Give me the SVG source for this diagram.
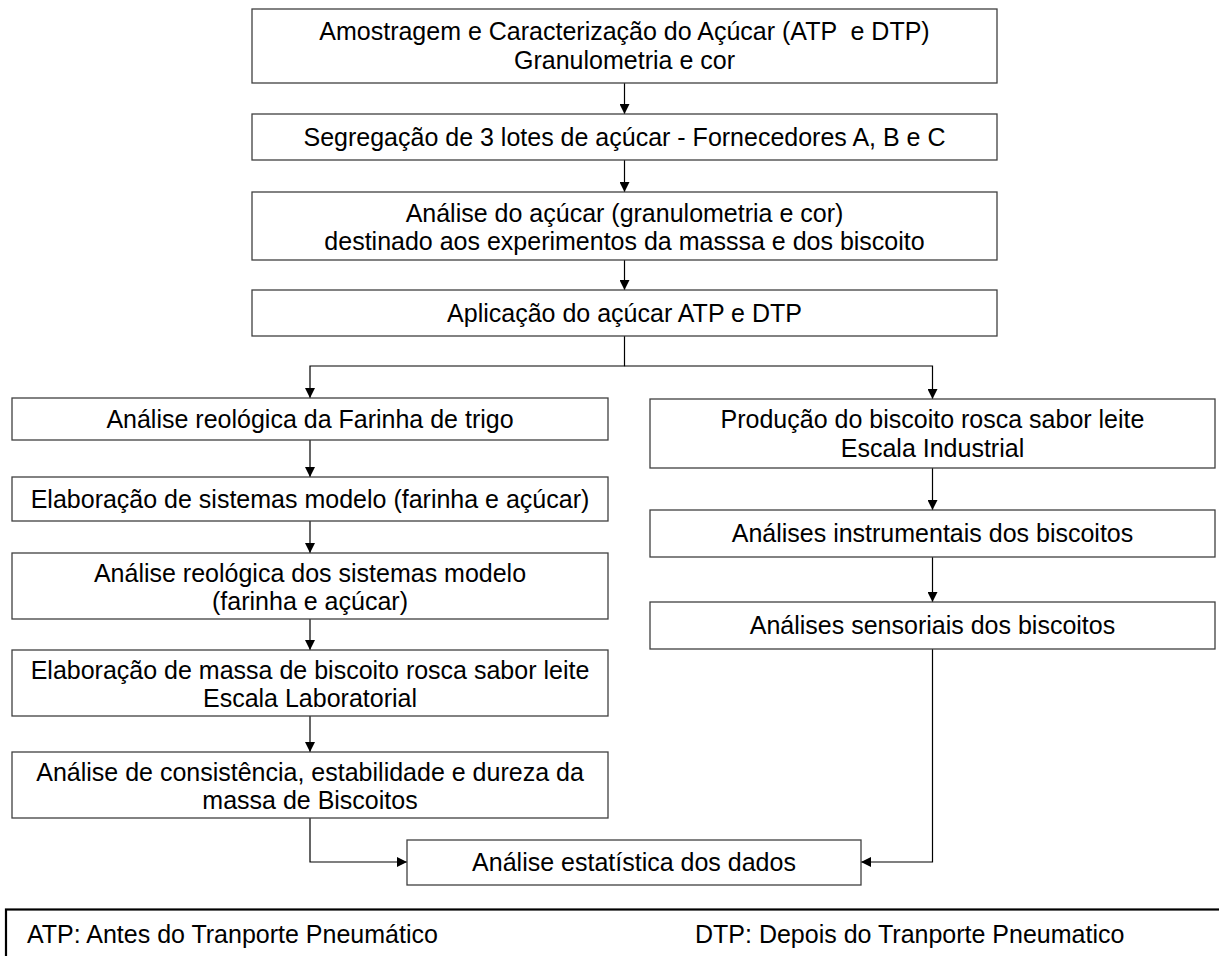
<svg xmlns="http://www.w3.org/2000/svg" width="1219" height="956" viewBox="0 0 1219 956">
  <style>
    .box { fill: #ffffff; stroke: #404040; stroke-width: 1.3; }
    .t { font-family: "Liberation Sans", Arial, sans-serif; font-size: 25px; fill: #000000; text-anchor: middle; white-space: pre; }
    .lg { font-family: "Liberation Sans", Arial, sans-serif; font-size: 25px; fill: #000000; }
    .c { fill: none; stroke: #000000; stroke-width: 1.2; }
  </style>
  <defs>
    <marker id="arrow" viewBox="0 0 10 10" refX="10" refY="5" markerWidth="10" markerHeight="10" markerUnits="userSpaceOnUse" orient="auto">
      <path d="M0,0 L10,5 L0,10 Z" fill="#000000"/>
    </marker>
  </defs>

  <rect width="1219" height="956" fill="#ffffff"/>

  <!-- connectors -->
  <g id="connectors">
    <path class="c" d="M624.5,83 V114" marker-end="url(#arrow)"/>
    <path class="c" d="M624.5,160 V192" marker-end="url(#arrow)"/>
    <path class="c" d="M624.5,260 V290" marker-end="url(#arrow)"/>
    <path class="c" d="M624.5,336 V366 H310 V398" marker-end="url(#arrow)"/>
    <path class="c" d="M624.5,366 H932.5 V399" marker-end="url(#arrow)"/>
    <path class="c" d="M310,440 V477" marker-end="url(#arrow)"/>
    <path class="c" d="M310,521 V553" marker-end="url(#arrow)"/>
    <path class="c" d="M310,619 V650" marker-end="url(#arrow)"/>
    <path class="c" d="M310,716 V752" marker-end="url(#arrow)"/>
    <path class="c" d="M310,818 V862 H407" marker-end="url(#arrow)"/>
    <path class="c" d="M932.5,468 V510" marker-end="url(#arrow)"/>
    <path class="c" d="M932.5,557 V602" marker-end="url(#arrow)"/>
    <path class="c" d="M932.5,649 V862 H861" marker-end="url(#arrow)"/>
  </g>

  <!-- main sequence -->
  <g id="n1">
    <rect class="box" x="252" y="9" width="745" height="74"/>
    <text class="t" x="624.5" y="40">Amostragem e Caracterização do Açúcar (ATP  e DTP)</text>
    <text class="t" x="624.5" y="69">Granulometria e cor</text>
  </g>
  <g id="n2">
    <rect class="box" x="252" y="114" width="745" height="46"/>
    <text class="t" x="624.5" y="146">Segregação de 3 lotes de açúcar - Fornecedores A, B e C</text>
  </g>
  <g id="n3">
    <rect class="box" x="252" y="192" width="745" height="68"/>
    <text class="t" x="624.5" y="222">Análise do açúcar (granulometria e cor)</text>
    <text class="t" x="624.5" y="250">destinado aos experimentos da masssa e dos biscoito</text>
  </g>
  <g id="n4">
    <rect class="box" x="252" y="290" width="745" height="46"/>
    <text class="t" x="624.5" y="322">Aplicação do açúcar ATP e DTP</text>
  </g>

  <!-- left branch -->
  <g id="l1">
    <rect class="box" x="12" y="398" width="596" height="42"/>
    <text class="t" x="310" y="428">Análise reológica da Farinha de trigo</text>
  </g>
  <g id="l2">
    <rect class="box" x="12" y="477" width="596" height="44"/>
    <text class="t" x="310" y="508">Elaboração de sistemas modelo (farinha e açúcar)</text>
  </g>
  <g id="l3">
    <rect class="box" x="12" y="553" width="596" height="66"/>
    <text class="t" x="310" y="582">Análise reológica dos sistemas modelo</text>
    <text class="t" x="310" y="610">(farinha e açúcar)</text>
  </g>
  <g id="l4">
    <rect class="box" x="12" y="650" width="596" height="66"/>
    <text class="t" x="310" y="679">Elaboração de massa de biscoito rosca sabor leite</text>
    <text class="t" x="310" y="707">Escala Laboratorial</text>
  </g>
  <g id="l5">
    <rect class="box" x="12" y="752" width="596" height="66"/>
    <text class="t" x="310" y="781">Análise de consistência, estabilidade e dureza da</text>
    <text class="t" x="310" y="809">massa de Biscoitos</text>
  </g>

  <!-- right branch -->
  <g id="r1">
    <rect class="box" x="650" y="399" width="565" height="69"/>
    <text class="t" x="932.5" y="428">Produção do biscoito rosca sabor leite</text>
    <text class="t" x="932.5" y="457">Escala Industrial</text>
  </g>
  <g id="r2">
    <rect class="box" x="650" y="510" width="565" height="47"/>
    <text class="t" x="932.5" y="542">Análises instrumentais dos biscoitos</text>
  </g>
  <g id="r3">
    <rect class="box" x="650" y="602" width="565" height="47"/>
    <text class="t" x="932.5" y="634">Análises sensoriais dos biscoitos</text>
  </g>

  <!-- merge -->
  <g id="n5">
    <rect class="box" x="407" y="840" width="454" height="45"/>
    <text class="t" x="634" y="871">Análise estatística dos dados</text>
  </g>

  <!-- legend -->
  <g id="legend">
    <rect x="6" y="909.5" width="1240" height="100" fill="none" stroke="#000000" stroke-width="2.2"/>
    <text class="lg" x="27" y="943">ATP: Antes do Tranporte Pneumático</text>
    <text class="lg" x="695" y="943">DTP: Depois do Tranporte Pneumatico</text>
  </g>
</svg>
